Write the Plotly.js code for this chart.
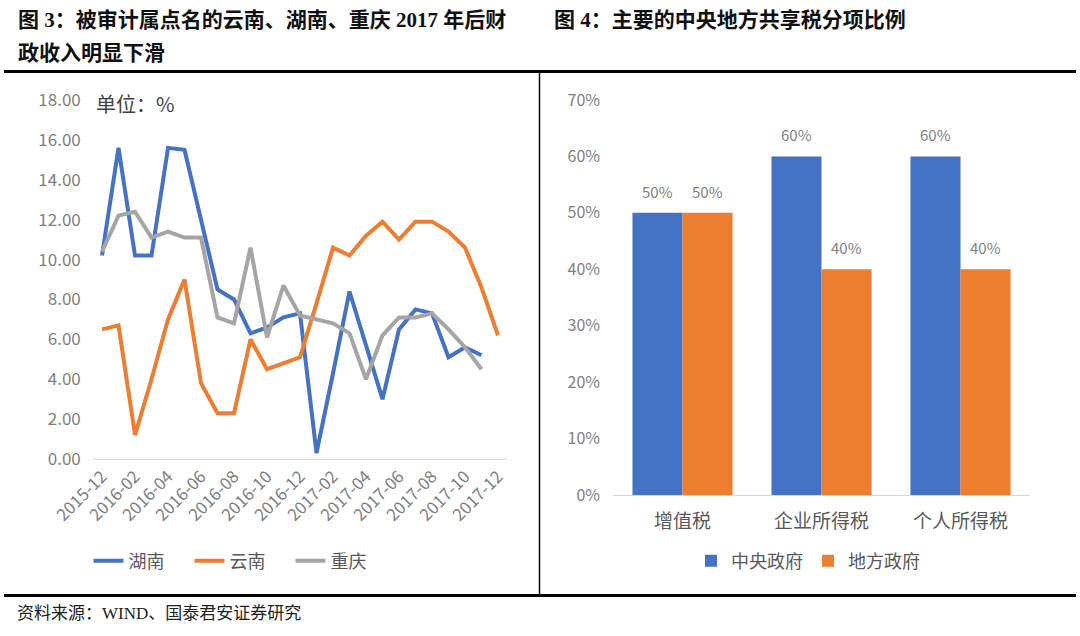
<!DOCTYPE html>
<html>
<head>
<meta charset="utf-8">
<script src="https://cdn.plot.ly/plotly-3.0.1.min.js"></script>
<style>html,body{margin:0;padding:0;background:#fff;}#chart{width:1080px;height:636px;}</style>
</head>
<body>
<div id="chart"></div>
<script>
// ---- Data: Figure 3 (monthly, %) ----
const months = ["2015-12","2016-01","2016-02","2016-03","2016-04","2016-05","2016-06","2016-07","2016-08","2016-09","2016-10","2016-11","2016-12",
                "2017-01","2017-02","2017-03","2017-04","2017-05","2017-06","2017-07","2017-08","2017-09","2017-10","2017-11","2017-12"];
const monthTicks = ["2015-12","2016-02","2016-04","2016-06","2016-08","2016-10","2016-12","2017-02","2017-04","2017-06","2017-08","2017-10","2017-12"];
const hunan     = [10.2,15.6,10.2,10.2,15.6,15.5,12.0,8.5,8.0,6.3,6.6,7.1,7.3,0.3,4.3,8.4,5.7,3.0,6.5,7.5,7.3,5.1,5.6,5.2,null];
const yunnan    = [6.5,6.7,1.2,4.0,7.0,9.0,3.8,2.3,2.3,6.0,4.5,4.8,5.1,7.8,10.6,10.2,11.2,11.9,11.0,11.9,11.9,11.4,10.6,8.6,6.2];
const chongqing = [10.4,12.2,12.4,11.1,11.4,11.1,11.1,7.1,6.8,10.6,6.1,8.7,7.2,7.0,6.8,6.3,4.0,6.2,7.1,7.1,7.3,6.5,5.6,4.5,null];
const lineNames = ["湖南","云南","重庆"];

// ---- Data: Figure 4 (share ratio) ----
const taxCats = ["增值税","企业所得税","个人所得税"];
const central = [0.5,0.6,0.6];
const local   = [0.5,0.4,0.4];
const barNames = ["中央政府","地方政府"];

const W = 1080, H = 636;
const px = v => v / W;
const py = v => 1 - v / H;

const CJK = "Noto Sans CJK SC, Noto Sans, sans-serif";
const SERIF = "Liberation Serif, Noto Sans CJK SC, serif";
const blue = "#4472C4", orange = "#ED7D31", gray = "#A5A5A5";
const tickGray = "#7f7f7f", textGray = "#595959";

// bar geometry (layout, not data)
const x2Left = 613, x2Right = 1030, BARGAP = 0.28;
const barW = (x2Right - x2Left) / taxCats.length * (1 - BARGAP) / 2;

const traces = [
  {x: months, y: hunan, name: lineNames[0], type: "scatter", mode: "lines", line: {color: blue, width: 4}, xaxis: "x", yaxis: "y", legend: "legend"},
  {x: months, y: yunnan, name: lineNames[1], type: "scatter", mode: "lines", line: {color: orange, width: 4}, xaxis: "x", yaxis: "y", legend: "legend"},
  {x: months, y: chongqing, name: lineNames[2], type: "scatter", mode: "lines", line: {color: gray, width: 4}, xaxis: "x", yaxis: "y", legend: "legend"},
  {x: taxCats, y: central, name: barNames[0], type: "bar", marker: {color: blue}, xaxis: "x2", yaxis: "y2", legend: "legend2"},
  {x: taxCats, y: local, name: barNames[1], type: "bar", marker: {color: orange}, xaxis: "x2", yaxis: "y2", legend: "legend2"}
];

const annotations = [
  {xref: "paper", yref: "paper", x: px(16), y: py(20), xanchor: "left", yanchor: "middle", showarrow: false,
   text: "<b>图 3：被审计属点名的云南、湖南、重庆 2017 年后财</b>", font: {family: SERIF, size: 21, color: "#111"}},
  {xref: "paper", yref: "paper", x: px(16), y: py(53), xanchor: "left", yanchor: "middle", showarrow: false,
   text: "<b>政收入明显下滑</b>", font: {family: SERIF, size: 21, color: "#111"}},
  {xref: "paper", yref: "paper", x: px(552), y: py(20), xanchor: "left", yanchor: "middle", showarrow: false,
   text: "<b>图 4：主要的中央地方共享税分项比例</b>", font: {family: SERIF, size: 21, color: "#111"}},
  {xref: "paper", yref: "paper", x: px(15), y: py(613), xanchor: "left", yanchor: "middle", showarrow: false,
   text: "资料来源：WIND、国泰君安证券研究", font: {family: SERIF, size: 17, color: "#222"}},
  {xref: "paper", yref: "paper", x: px(94), y: py(103), xanchor: "left", yanchor: "middle", showarrow: false,
   text: "单位：%", font: {family: CJK, size: 20, color: "#404040"}}
];
// bar value labels, placed from the data arrays
[central, local].forEach((series, s) => {
  series.forEach((v, i) => {
    annotations.push({xref: "x2", yref: "y2", x: taxCats[i], y: v, xshift: (s - 0.5) * barW, yshift: 9,
      xanchor: "center", yanchor: "bottom", showarrow: false, text: Math.round(v * 100) + "%",
      font: {family: CJK, size: 15, color: tickGray}});
  });
});

const layout = {
  width: W, height: H,
  margin: {l: 0, r: 0, t: 0, b: 0},
  paper_bgcolor: "#fff", plot_bgcolor: "rgba(0,0,0,0)",
  showlegend: true,
  barmode: "group", bargap: BARGAP, bargroupgap: 0,
  xaxis: {
    type: "category", domain: [px(93.75), px(506.25)], range: [-0.5, 24.5], anchor: "y",
    tickmode: "array", tickvals: monthTicks, ticktext: monthTicks, tickangle: -45,
    tickfont: {family: CJK, size: 17, color: tickGray},
    showgrid: false, zeroline: false, showline: true, linecolor: "#d9d9d9", linewidth: 1, ticks: ""
  },
  yaxis: {
    domain: [py(459), py(100)], range: [0, 18], anchor: "x",
    tickmode: "linear", tick0: 0, dtick: 2, tickformat: ".2f",
    tickfont: {family: CJK, size: 17, color: tickGray},
    showgrid: false, zeroline: false, showline: false, ticks: "", ticklabelstandoff: 12
  },
  xaxis2: {
    type: "category", domain: [px(x2Left), px(x2Right)], anchor: "y2",
    tickfont: {family: CJK, size: 19, color: textGray},
    showgrid: false, zeroline: false, showline: true, linecolor: "#d9d9d9", linewidth: 1, ticks: "", ticklabelstandoff: 9
  },
  yaxis2: {
    domain: [py(495), py(100)], range: [0, 0.7], anchor: "x2",
    tickmode: "linear", tick0: 0, dtick: 0.1, tickformat: ".0%",
    tickfont: {family: CJK, size: 16, color: tickGray},
    showgrid: false, zeroline: false, showline: false, ticks: "", ticklabelstandoff: 12
  },
  legend: {
    orientation: "h", x: px(240), xanchor: "center", y: py(561), yanchor: "middle",
    font: {family: CJK, size: 18, color: textGray}, bgcolor: "rgba(0,0,0,0)",
    entrywidth: 56, entrywidthmode: "pixels"
  },
  legend2: {
    orientation: "h", x: px(808), xanchor: "center", y: py(561), yanchor: "middle",
    font: {family: CJK, size: 18, color: textGray}, bgcolor: "rgba(0,0,0,0)"
  },
  shapes: [
    {type: "line", xref: "paper", yref: "paper", x0: px(4), x1: px(1076), y0: py(71.5), y1: py(71.5), line: {color: "#000", width: 3}},
    {type: "line", xref: "paper", yref: "paper", x0: px(4), x1: px(1076), y0: py(595.5), y1: py(595.5), line: {color: "#000", width: 3}},
    {type: "line", xref: "paper", yref: "paper", x0: px(539.5), x1: px(539.5), y0: py(73), y1: py(594), line: {color: "#000", width: 1.5}}
  ],
  annotations: annotations
};

Plotly.newPlot("chart", traces, layout, {displayModeBar: false, staticPlot: true});
</script>
</body>
</html>
